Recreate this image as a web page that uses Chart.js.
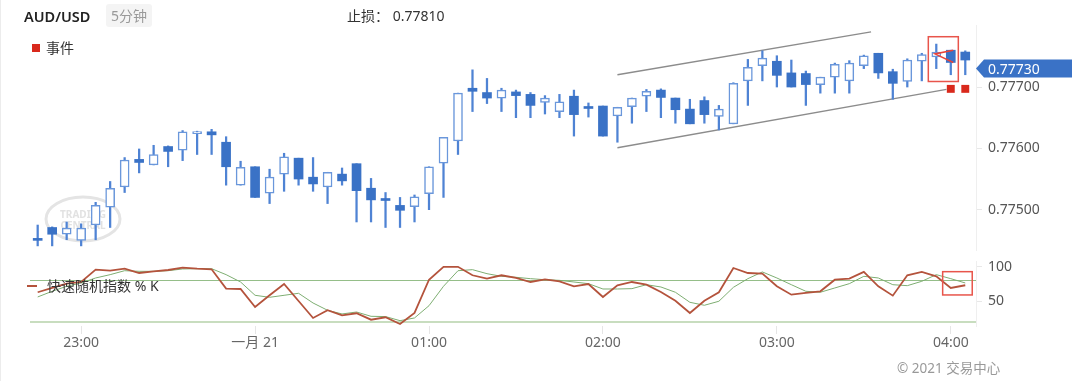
<!DOCTYPE html>
<html>
<head>
<meta charset="utf-8">
<script src="https://cdn.jsdelivr.net/npm/chart.js@4.4.1/dist/chart.umd.min.js"></script>
<style>
  body { margin: 0; background: #fff; font-family: "Noto Sans", "Noto Sans CJK SC", sans-serif; }
  #wrap { position: relative; width: 1080px; height: 381px; overflow: hidden; }
  .abs { position: absolute; white-space: nowrap; }
  #edge { left: 0; top: 0; width: 1px; height: 381px; background: #ececec; }
  #pair { left: 24px; top: 5px; font-size: 14.5px; font-weight: 600; color: #222; line-height: 22px; }
  #tf { left: 106px; top: 4px; height: 23px; padding: 0 5px; background: #f4f4f4; border-radius: 3px;
        font-size: 14px; color: #999; line-height: 23px; }
  #stop { left: 347px; top: 5px; font-size: 14px; color: #333; line-height: 22px; }
  #evt { left: 32px; top: 37px; font-size: 14px; color: #333; line-height: 22px; }
  #evt i { display: inline-block; width: 8px; height: 8px; background: #d9291c; margin-right: 6px; vertical-align: 1px; }
  #osc { left: 27px; top: 275px; font-size: 14px; color: #333; line-height: 22px; }
  #osc i { display: inline-block; width: 10px; height: 2px; background: #b4533c; margin-right: 10px; vertical-align: 4px; }
  #copy { left: 897px; top: 357px; font-size: 13.5px; color: #999; line-height: 22px; }
  canvas { position: absolute; left: 0; }
</style>
</head>
<body>
<div id="wrap">
  <canvas id="priceChart" width="1080" height="266" style="top:0"></canvas>
  <canvas id="stochChart" width="1080" height="136" style="top:245px"></canvas>
  <div class="abs" id="edge"></div>
  <div class="abs" id="pair">AUD/USD</div>
  <div class="abs" id="tf">5分钟</div>
  <div class="abs" id="stop">止损： 0.77810</div>
  <div class="abs" id="evt"><i></i>事件</div>
  <div class="abs" id="osc"><i></i>快速随机指数 % K</div>
  <div class="abs" id="copy">© 2021 交易中心</div>
</div>
<script>
// 5分钟 K线, 22:45 → 04:05
const opens = [0.77450,0.77471,0.77460,0.77450,0.77475,0.77504,0.77537,0.77582,0.77573,0.77603,
  0.77597,0.77624,0.77627,0.77610,0.77540,0.77570,0.77527,0.77558,0.77584,0.77553,
  0.77537,0.77558,0.77575,0.77535,0.77515,0.77507,0.77505,0.77526,0.77576,0.77612,
  0.77698,0.77691,0.77682,0.77692,0.77688,0.77675,0.77660,0.77685,0.77665,0.77669,
  0.77653,0.77668,0.77685,0.77695,0.77682,0.77664,0.77678,0.77652,0.77640,0.77710,
  0.77735,0.77742,0.77723,0.77722,0.77704,0.77716,0.77710,0.77735,0.77755,0.77725,
  0.77709,0.77742,0.77749,0.77760,0.77757];
const highs = [0.77475,0.77472,0.77480,0.77477,0.77512,0.77546,0.77585,0.77599,0.77605,0.77604,
  0.77629,0.77628,0.77631,0.77619,0.77579,0.77570,0.77566,0.77592,0.77584,0.77585,
  0.77561,0.77568,0.77575,0.77551,0.77528,0.77520,0.77524,0.77570,0.77618,0.77690,
  0.77728,0.77714,0.77698,0.77695,0.77691,0.77686,0.77688,0.77695,0.77674,0.77669,
  0.77667,0.77682,0.77696,0.77697,0.77682,0.77680,0.77684,0.77670,0.77707,0.77745,
  0.77759,0.77751,0.77744,0.77726,0.77716,0.77739,0.77743,0.77752,0.77755,0.77729,
  0.77746,0.77755,0.77770,0.77760,0.77759];
const lows = [0.77441,0.77441,0.77451,0.77441,0.77451,0.77471,0.77528,0.77560,0.77573,0.77570,
  0.77580,0.77590,0.77590,0.77540,0.77540,0.77520,0.77510,0.77530,0.77540,0.77530,
  0.77510,0.77540,0.77480,0.77480,0.77471,0.77471,0.77480,0.77500,0.77520,0.77590,
  0.77660,0.77673,0.77660,0.77650,0.77650,0.77656,0.77650,0.77620,0.77651,0.77620,
  0.77610,0.77641,0.77660,0.77650,0.77641,0.77640,0.77641,0.77630,0.77640,0.77670,
  0.77710,0.77700,0.77700,0.77670,0.77690,0.77690,0.77690,0.77730,0.77714,0.77680,
  0.77700,0.77710,0.77730,0.77720,0.77720];
const closes = [0.77450,0.77460,0.77470,0.77470,0.77507,0.77535,0.77581,0.77577,0.77590,0.77595,
  0.77627,0.77626,0.77622,0.77570,0.77569,0.77520,0.77553,0.77586,0.77550,0.77542,
  0.77561,0.77547,0.77531,0.77516,0.77515,0.77499,0.77521,0.77570,0.77618,0.77690,
  0.77693,0.77682,0.77695,0.77686,0.77670,0.77682,0.77676,0.77655,0.77665,0.77620,
  0.77667,0.77682,0.77693,0.77683,0.77663,0.77640,0.77655,0.77664,0.77706,0.77732,
  0.77747,0.77719,0.77700,0.77704,0.77716,0.77737,0.77739,0.77751,0.77723,0.77706,
  0.77744,0.77753,0.77757,0.77740,0.77744];

// 快速随机指数 %K / %D
const pctK = [63.3,69.5,75.7,78.1,95.9,94.4,97.3,91.1,93.5,95.4,
  98.8,97.3,96.4,68.5,68,42,58.9,75.2,50.7,26.2,
  37.3,30,33,23.7,27.2,17.5,33.4,81.4,100,100,
  87.8,82.9,87.8,83.9,78.1,82,79.1,71.9,75.2,56.5,
  73.4,78.1,74.2,63.7,51.1,33.4,51.1,63.3,98.3,91.1,
  90.1,71.9,59.8,62.3,64.7,81.4,82.9,92.6,71.9,58.4,
  87.8,92.6,86.3,69.5,73.4];
const pctD = [56.5,64.7,71.9,76.7,83.9,88.7,94.4,93.5,93.5,94.4,
  96.9,97.3,97.3,88.7,78.1,58.9,56,58.9,61.8,47.8,
  37.3,32,34.8,28.6,28.2,22.3,26.2,43.9,71.9,94.4,
  95.9,90.1,86.3,84.9,82.9,81.4,80.5,78.1,75.7,68,
  68,68.5,74.2,70.9,63.3,48.8,44.5,50.3,70.4,82.9,
  92.6,83.9,74.2,64.7,63.3,69.5,75.7,86.3,83.9,74.2,
  72.8,79.1,88.7,82.9,76.7];

const hourTicks = [3, 15, 27, 39, 51, 63];
const hourLabels = ['23:00', '一月 21', '01:00', '02:00', '03:00', '04:00'];
const priceTicks = [0.775, 0.776, 0.777];
const stochTicks = [20, 50, 80, 100];
const stochLevels = [20, 80];
const lastPrice = 0.77730;

// 通道线
const channelX = [40, 57.5];
const channelUpY = [0.77720, 0.77790];
const channelLoX = [40, 62.7];
const channelLoY = [0.77601, 0.77696];
// 事件
const eventIdx = [63, 64];
const eventPrice = [0.77697, 0.77697];
// 标记框
const markX = [61.45, 63.52];
const markPrice = [0.77709, 0.77782];
const markStochX = [62.44, 64.48];
const markStoch = [59.4, 93];
const wedgeX = [63.17, 61.91, 63.17];
const wedgeY = [0.77760, 0.77754, 0.77740];

const xMin = -0.53, xMax = 64.74;
const BLUE = '#3a72c6';
const FONT = '"Noto Sans", "Noto Sans CJK SC", sans-serif';
Chart.defaults.font.family = FONT;
Chart.defaults.font.size = 14;
Chart.defaults.color = '#666';

const idx = opens.map((v, i) => i);
const isUp = i => closes[i] > opens[i];

const markBox = (xs, ys, axis) => ({
  id: 'markBox' + axis,
  afterDatasetsDraw(chart) {
    const { ctx, scales } = chart;
    const x0 = scales.x.getPixelForValue(xs[0]), x1 = scales.x.getPixelForValue(xs[1]);
    const y0 = scales[axis].getPixelForValue(ys[0]), y1 = scales[axis].getPixelForValue(ys[1]);
    ctx.save();
    ctx.strokeStyle = '#e8554b';
    ctx.lineWidth = 1.5;
    ctx.strokeRect(x0, y1, x1 - x0, y0 - y1);
    ctx.restore();
  }
});

const watermark = {
  id: 'watermark',
  beforeDatasetsDraw(chart) {
    const { ctx, chartArea } = chart;
    const cx = chartArea.left + 53, cy = 219;
    ctx.save();
    ctx.strokeStyle = '#e4e4e4';
    ctx.lineWidth = 3;
    ctx.beginPath();
    ctx.ellipse(cx, cy, 37, 22, 0, 0, Math.PI * 2);
    ctx.stroke();
    ctx.fillStyle = '#e2e2e2';
    ctx.font = 'bold 10px ' + FONT;
    ctx.textAlign = 'center';
    ctx.textBaseline = 'middle';
    ctx.fillText('TRADING', cx, cy - 4);
    ctx.fillText('CENTRAL', cx, cy + 7);
    ctx.restore();
  }
};

const priceTag = {
  id: 'priceTag',
  afterDraw(chart) {
    const { ctx, chartArea, scales } = chart;
    const y = scales.y.getPixelForValue(lastPrice);
    const x = chartArea.right;
    ctx.save();
    ctx.fillStyle = BLUE;
    ctx.beginPath();
    ctx.moveTo(x, y);
    ctx.lineTo(x + 8, y - 9);
    ctx.lineTo(x + 96, y - 9);
    ctx.lineTo(x + 96, y + 9);
    ctx.lineTo(x + 8, y + 9);
    ctx.closePath();
    ctx.fill();
    ctx.fillStyle = '#fff';
    ctx.font = '14px ' + FONT;
    ctx.textBaseline = 'middle';
    ctx.fillText(lastPrice.toFixed(5), x + 12, y + 1);
    ctx.restore();
  }
};

const fixRight = s => { s.width = 104; };

new Chart(document.getElementById('priceChart'), {
  type: 'bar',
  data: {
    datasets: [
      {
        label: 'body',
        order: 1,
        data: idx.map(i => ({ x: i, y: [opens[i], closes[i]] })),
        barThickness: 9,
        minBarLength: 2,
        grouped: false,
        borderSkipped: false,
        backgroundColor: c => isUp(c.dataIndex) ? '#fff' : BLUE,
        borderColor: c => isUp(c.dataIndex) ? '#6a97db' : BLUE,
        borderWidth: c => isUp(c.dataIndex) ? 1.5 : 0
      },
      {
        label: 'wick',
        order: 2,
        data: idx.map(i => ({ x: i, y: [lows[i], highs[i]] })),
        barThickness: 1.6,
        grouped: false,
        borderSkipped: false,
        backgroundColor: '#4f83d4',
        borderWidth: 0
      },
      {
        type: 'line', label: 'upper', order: 3,
        data: channelX.map((x, i) => ({ x, y: channelUpY[i] })),
        borderColor: '#8c8c8c', borderWidth: 1.3, pointRadius: 0
      },
      {
        type: 'line', label: 'lower', order: 3,
        data: channelLoX.map((x, i) => ({ x, y: channelLoY[i] })),
        borderColor: '#8c8c8c', borderWidth: 1.3, pointRadius: 0
      },
      {
        type: 'line', label: 'wedge', order: 0,
        data: wedgeX.map((x, i) => ({ x, y: wedgeY[i] })),
        borderColor: '#e8433a', borderWidth: 1.5, pointRadius: 0
      },
      {
        type: 'line', label: '事件', order: 0, showLine: false,
        data: eventIdx.map((x, i) => ({ x, y: eventPrice[i] })),
        pointStyle: 'rect', pointRadius: 5.6, pointBorderWidth: 0,
        backgroundColor: '#d9291c', borderColor: '#d9291c'
      }
    ]
  },
  options: {
    responsive: false,
    animation: false,
    layout: { padding: { left: 30, top: 25, bottom: 16, right: 0 } },
    plugins: { legend: { display: false }, tooltip: { enabled: false } },
    scales: {
      x: { type: 'linear', min: xMin, max: xMax, offset: false, display: false },
      y: {
        position: 'right',
        min: 0.774343, max: 0.778011,
        afterFit: fixRight,
        afterBuildTicks: s => { s.ticks = priceTicks.map(v => ({ value: v })); },
        ticks: { padding: 6, color: '#555', callback: v => v.toFixed(5) },
        grid: { drawOnChartArea: false, tickLength: 6, color: '#e8e8e8' },
        border: { display: true, color: '#efefef' }
      }
    }
  },
  plugins: [watermark, markBox(markX, markPrice, 'y'), priceTag]
});

new Chart(document.getElementById('stochChart'), {
  type: 'line',
  data: {
    datasets: [
      {
        label: '%K',
        data: idx.map(i => ({ x: i, y: pctK[i] })),
        borderColor: '#b4533c', borderWidth: 1.8, pointRadius: 0, tension: 0
      },
      {
        label: '%D',
        data: idx.map(i => ({ x: i, y: pctD[i] })),
        borderColor: '#7eae72', borderWidth: 1, pointRadius: 0, tension: 0
      }
    ]
  },
  options: {
    responsive: false,
    animation: false,
    layout: { padding: { left: 30, top: 16, bottom: 0, right: 0 } },
    plugins: { legend: { display: false }, tooltip: { enabled: false } },
    scales: {
      x: {
        type: 'linear', min: xMin, max: xMax, offset: false,
        afterFit: s => { s.height = 55; },
        afterBuildTicks: s => { s.ticks = hourTicks.map(v => ({ value: v })); },
        ticks: { autoSkip: false, maxRotation: 0, padding: 1, color: '#666',
                 callback: (v, i) => hourLabels[i] },
        grid: { drawOnChartArea: false, tickLength: 8, color: '#e6e6e6' },
        border: { display: false }
      },
      y: {
        position: 'right',
        min: 14.6, max: 108.4,
        afterFit: fixRight,
        afterBuildTicks: s => { s.ticks = stochTicks.map(v => ({ value: v })); },
        ticks: { padding: 6, color: '#555',
                 callback: v => stochLevels.includes(v) ? '' : String(v) },
        grid: {
          tickLength: 6,
          color: c => c.tick && c.tick.value === 20 ? '#c8ddbf'
                    : c.tick && c.tick.value === 80 ? '#95be89' : 'rgba(0,0,0,0)',
          lineWidth: c => c.tick && c.tick.value === 20 ? 2 : 1,
          tickColor: c => c.tick && stochLevels.includes(c.tick.value) ? 'rgba(0,0,0,0)' : '#e8e8e8'
        },
        border: { display: true, color: '#efefef' }
      }
    }
  },
  plugins: [markBox(markStochX, markStoch, 'y')]
});
</script>
</body>
</html>
